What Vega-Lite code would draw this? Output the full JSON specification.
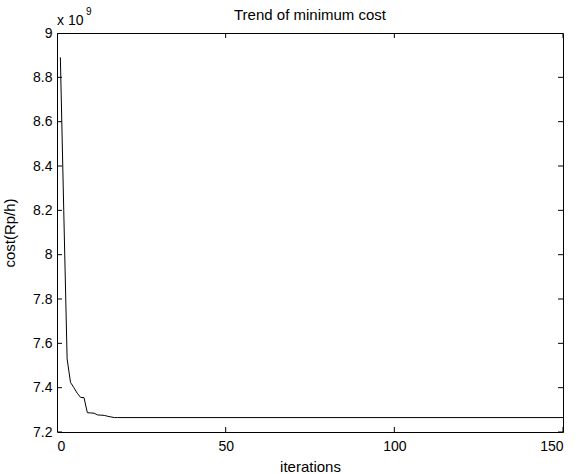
{
  "$schema": "https://vega.github.io/schema/vega-lite/v6.json",
  "width": 506,
  "height": 399,
  "autosize": {"type": "none"},
  "padding": {"left": 57, "top": 33, "right": 15, "bottom": 42},
  "background": "white",
  "title": {"text": "Trend of minimum cost", "fontSize": 15, "fontWeight": "normal", "font": "Liberation Sans", "color": "black", "anchor": "middle", "offset": -16},
  "config": {
    "view": {"stroke": "black", "strokeWidth": 1},
    "axis": {"domain": false, "ticks": false, "labelColor": "black", "titleColor": "black", "labelFont": "Liberation Sans", "titleFont": "Liberation Sans", "labelFontSize": 14, "titleFontSize": 15, "titleFontWeight": "normal", "grid": false}
  },
  "datasets": {
    "trend": [
      {"iteration": 1, "cost": 8890000000},
      {"iteration": 2, "cost": 8200000000},
      {"iteration": 3, "cost": 7530000000},
      {"iteration": 4, "cost": 7424000000},
      {"iteration": 5, "cost": 7400000000},
      {"iteration": 6, "cost": 7375000000},
      {"iteration": 7, "cost": 7356000000},
      {"iteration": 8, "cost": 7355000000},
      {"iteration": 9, "cost": 7287000000},
      {"iteration": 10, "cost": 7286000000},
      {"iteration": 11, "cost": 7285000000},
      {"iteration": 12, "cost": 7277000000},
      {"iteration": 13, "cost": 7276000000},
      {"iteration": 14, "cost": 7275000000},
      {"iteration": 15, "cost": 7271000000},
      {"iteration": 16, "cost": 7268000000},
      {"iteration": 17, "cost": 7265000000},
      {"iteration": 18, "cost": 7265000000},
      {"iteration": 150, "cost": 7265000000}
    ],
    "xticks": [{"iteration": 0}, {"iteration": 50}, {"iteration": 100}, {"iteration": 150}],
    "yticks": [
      {"cost": 7200000000}, {"cost": 7400000000}, {"cost": 7600000000}, {"cost": 7800000000}, {"cost": 8000000000},
      {"cost": 8200000000}, {"cost": 8400000000}, {"cost": 8600000000}, {"cost": 8800000000}, {"cost": 9000000000}
    ]
  },
  "layer": [
    {
      "data": {"name": "trend"},
      "mark": {"type": "line", "color": "black", "strokeWidth": 1, "clip": true},
      "encoding": {
        "x": {"field": "iteration", "type": "quantitative", "scale": {"domain": [0, 150], "nice": false, "zero": false},
              "axis": {"orient": "bottom", "values": [0, 50, 100, 150], "title": "iterations", "labelPadding": 7, "titlePadding": 6}},
        "y": {"field": "cost", "type": "quantitative", "scale": {"domain": [7200000000, 9000000000], "nice": false, "zero": false},
              "axis": {"orient": "left", "values": [7200000000, 7400000000, 7600000000, 7800000000, 8000000000, 8200000000, 8400000000, 8600000000, 8800000000, 9000000000], "labelExpr": "format(datum.value/1e9, '.1~f')", "title": "cost(Rp/h)", "labelPadding": 5, "titlePadding": 15}}
      }
    },
    {
      "data": {"name": "xticks"},
      "mark": {"type": "tick", "orient": "vertical", "color": "black", "size": 10, "thickness": 1, "opacity": 1, "clip": true},
      "encoding": {
        "x": {"field": "iteration", "type": "quantitative"},
        "y": {"datum": 7200000000, "type": "quantitative"}
      }
    },
    {
      "data": {"name": "xticks"},
      "mark": {"type": "tick", "orient": "vertical", "color": "black", "size": 10, "thickness": 1, "opacity": 1, "clip": true},
      "encoding": {
        "x": {"field": "iteration", "type": "quantitative"},
        "y": {"datum": 9000000000, "type": "quantitative"}
      }
    },
    {
      "data": {"name": "yticks"},
      "mark": {"type": "tick", "orient": "horizontal", "color": "black", "size": 10, "thickness": 1, "opacity": 1, "clip": true},
      "encoding": {
        "y": {"field": "cost", "type": "quantitative"},
        "x": {"datum": 0, "type": "quantitative"}
      }
    },
    {
      "data": {"name": "yticks"},
      "mark": {"type": "tick", "orient": "horizontal", "color": "black", "size": 10, "thickness": 1, "opacity": 1, "clip": true},
      "encoding": {
        "y": {"field": "cost", "type": "quantitative"},
        "x": {"datum": 150, "type": "quantitative"}
      }
    },
    {
      "data": {"values": [{}]},
      "mark": {"type": "text", "text": "x 10", "align": "left", "baseline": "alphabetic", "fontSize": 14, "font": "Liberation Sans", "color": "black", "dx": 0, "dy": -8},
      "encoding": {
        "x": {"datum": 0, "type": "quantitative"},
        "y": {"datum": 9000000000, "type": "quantitative"}
      }
    },
    {
      "data": {"values": [{}]},
      "mark": {"type": "text", "text": "9", "align": "left", "baseline": "alphabetic", "fontSize": 10, "font": "Liberation Sans", "color": "black", "dx": 29, "dy": -18},
      "encoding": {
        "x": {"datum": 0, "type": "quantitative"},
        "y": {"datum": 9000000000, "type": "quantitative"}
      }
    }
  ]
}
